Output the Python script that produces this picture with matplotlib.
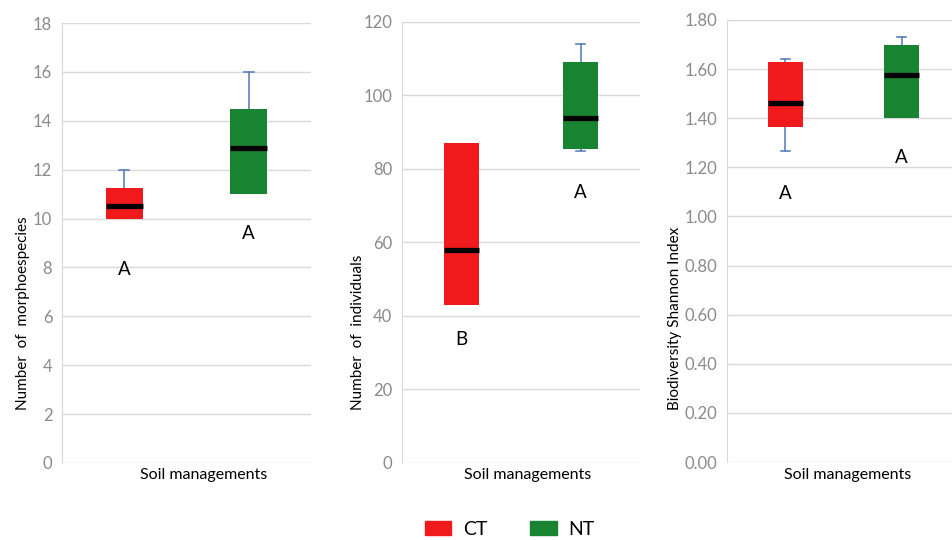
import matplotlib.pyplot as plt
from matplotlib.ticker import FormatStrFormatter, MultipleLocator
from matplotlib.patches import Patch

plt.rcParams['font.family'] = ['Lato', 'DejaVu Sans']

groups = ['CT', 'NT']
colors = ['#f0191c', '#188331']

# box stats per panel: (whislo, q1, med, q3, whishi) for CT, NT
morpho = [(10.0, 10.0, 10.5, 11.25, 12.0), (11.0, 11.0, 12.9, 14.5, 16.0)]
indiv = [(43.0, 43.0, 58.0, 87.0, 87.0), (85.0, 85.5, 94.0, 109.0, 114.0)]
shannon = [(1.265, 1.365, 1.46, 1.63, 1.64), (1.40, 1.40, 1.575, 1.70, 1.73)]

morpho_letters = ['A', 'A']
indiv_letters = ['B', 'A']
shannon_letters = ['A', 'A']
morpho_letter_y = [7.9, 9.4]
indiv_letter_y = [33.5, 73.5]
shannon_letter_y = [1.095, 1.24]

ylabels = ['Number  of  morphoespecies', 'Number  of  individuals', 'Biodiversity Shannon Index']

fig = plt.figure(figsize=(9.53, 5.4), dpi=100)

panels = [
    dict(stats=morpho, letters=morpho_letters, ly=morpho_letter_y, ymax=18, step=2, fmt='%d',
         rect=[0.0651, 0.1426, 0.2612, 0.8148], lab_x=0.024, xl_x=0.214),
    dict(stats=indiv, letters=indiv_letters, ly=indiv_letter_y, ymax=120, step=20, fmt='%d',
         rect=[0.4218, 0.1426, 0.2498, 0.8167], lab_x=0.376, xl_x=0.554),
    dict(stats=shannon, letters=shannon_letters, ly=shannon_letter_y, ymax=1.8, step=0.2, fmt='%.2f',
         rect=[0.7629, 0.1444, 0.2445, 0.8186], lab_x=0.708, xl_x=0.889),
]

for p, ylab in zip(panels, ylabels):
    ax = fig.add_axes(p['rect'])
    stats = []
    for s in p['stats']:
        stats.append(dict(whislo=s[0], q1=s[1], med=s[2], q3=s[3], whishi=s[4], fliers=[]))
    bp = ax.bxp(stats, positions=[1, 2], widths=0.3, patch_artist=True, showfliers=False,
                capwidths=0.08,
                boxprops=dict(linewidth=0, zorder=3),
                medianprops=dict(color='black', linewidth=3.8, solid_capstyle='butt', zorder=4),
                whiskerprops=dict(color='#5b82bd', linewidth=1.2, zorder=2),
                capprops=dict(color='#5b82bd', linewidth=1.2, zorder=2))
    for box, c in zip(bp['boxes'], colors):
        box.set_facecolor(c)
        box.set_edgecolor(c)
    # no whisker drawn where it has zero length
    for i, s in enumerate(p['stats']):
        if s[0] == s[1]:
            bp['caps'][2 * i].set_visible(False)
            bp['whiskers'][2 * i].set_visible(False)
        if s[4] == s[3]:
            bp['caps'][2 * i + 1].set_visible(False)
            bp['whiskers'][2 * i + 1].set_visible(False)

    for i, (letter, y) in enumerate(zip(p['letters'], p['ly'])):
        ax.text(i + 1, y, letter, ha='center', va='center', fontsize=13.5, color='black')

    ax.set_xlim(0.5, 2.5)
    ax.set_ylim(0, p['ymax'])
    ax.yaxis.set_major_locator(MultipleLocator(p['step']))
    ax.yaxis.set_major_formatter(FormatStrFormatter(p['fmt']))
    ax.tick_params(axis='y', length=0, pad=7, labelsize=12, labelcolor='#8a8a8a')
    ax.set_xticks([])
    ax.grid(axis='y', color='#d9d9d9', linewidth=1)
    ax.set_axisbelow(True)
    for side in ['top', 'right', 'bottom']:
        ax.spines[side].set_visible(False)
    ax.spines['left'].set_color('#d9d9d9')

    fig.text(p['lab_x'], 0.24, ylab, rotation=90, ha='center', va='bottom', fontsize=11)
    fig.text(p['xl_x'], 0.12, 'Soil managements', ha='center', va='center', fontsize=11.5)

handles = [Patch(facecolor=c, edgecolor=c) for c in colors]
fig.legend(handles, groups, loc='center', bbox_to_anchor=(0.535, 0.02), ncol=2, frameon=False,
           fontsize=14, handlelength=1.35, handleheight=0.75, columnspacing=2.2, handletextpad=0.6,
           borderpad=0.2)

fig.savefig('out.png', dpi=100)
